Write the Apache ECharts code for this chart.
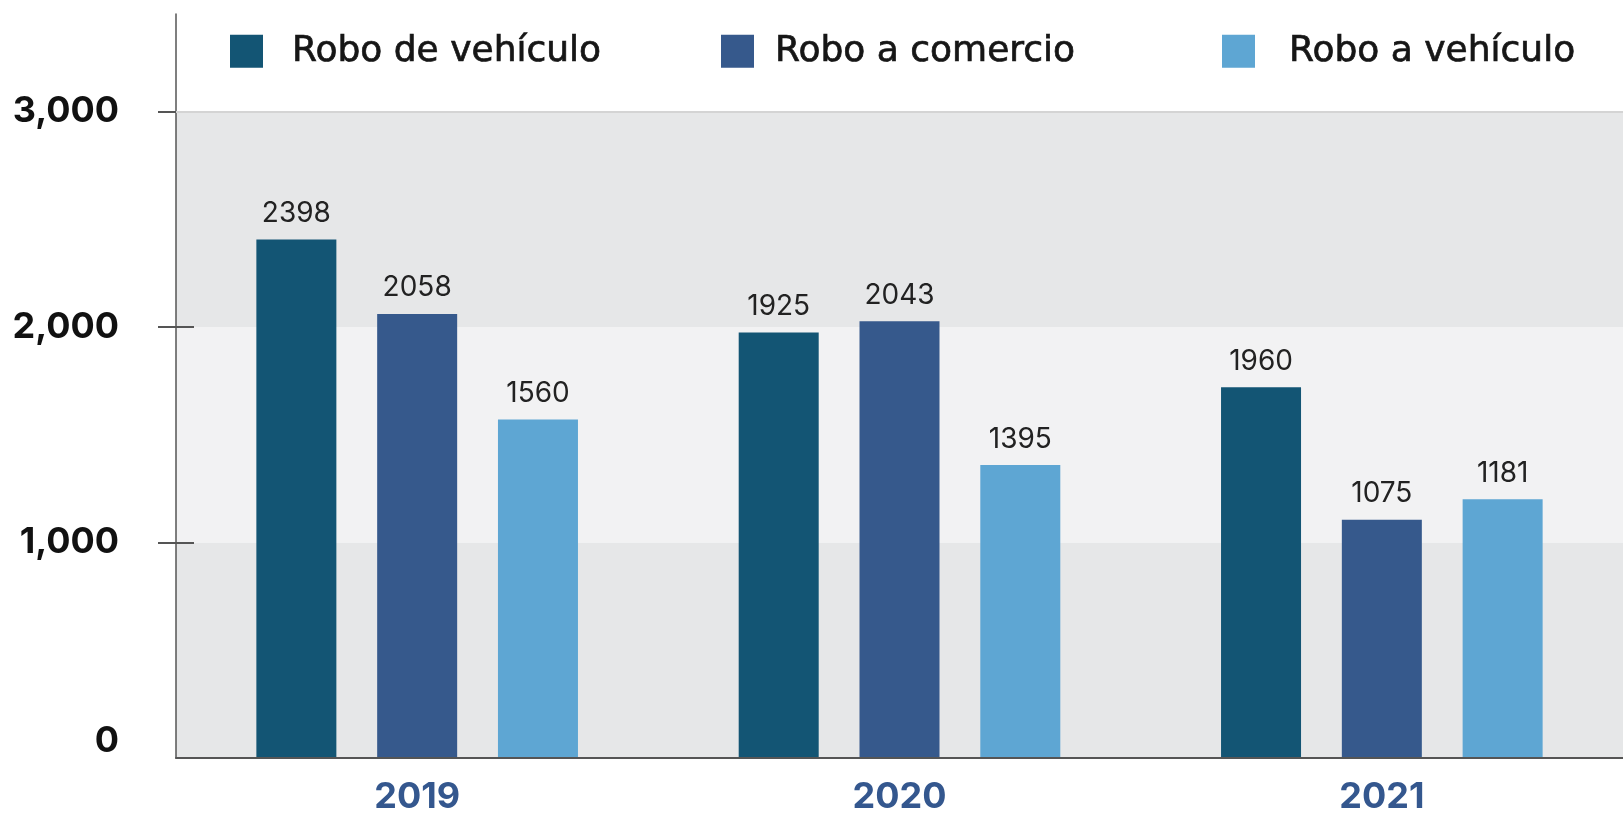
<!DOCTYPE html>
<html>
<head>
<meta charset="utf-8">
<script src="https://cdn.jsdelivr.net/npm/echarts@6/dist/echarts.min.js"></script>
<style>
  html, body { margin: 0; padding: 0; background: #fff; }
  #chart { width: 1623px; height: 815px; }
</style>
</head>
<body>
<div id="chart"></div>
<script>
// años
const years = ['2019', '2020', '2021'];
const seriesNames = ['Robo de vehículo', 'Robo a comercio', 'Robo a vehículo'];

// cifras impresas sobre cada barra
const roboDeVehiculoLabels = [2398, 1925, 1960];
const roboComercioLabels = [2058, 2043, 1075];
const roboAVehiculoLabels = [1560, 1395, 1181];

// altura dibujada de cada barra
const roboDeVehiculo = [2406, 1974, 1720];
const roboComercio = [2060, 2026, 1105];
const roboAVehiculo = [1571, 1359, 1201];

const yTicks = [0, 1000, 2000, 3000];

const colors = ['#135574', '#36598c', '#5ea6d3'];
const font = 'Inter, "Noto Sans", sans-serif';
const legendFont = '"DejaVu Sans", sans-serif';

const chart = echarts.init(document.getElementById('chart'));

function barSeries(idx, values, labels) {
  return {
    name: seriesNames[idx],
    type: 'bar',
    z: 3,
    data: values,
    barWidth: 80,
    barGap: '51%',
    itemStyle: { color: colors[idx] },
    label: {
      show: true,
      position: 'top',
      distance: 12,
      fontFamily: font,
      fontSize: 28,
      color: '#222',
      formatter: (p) => String(labels[p.dataIndex])
    }
  };
}

function legendAt(idx, left, padLeft) {
  return {
    data: [seriesNames[idx]],
    left: left,
    top: 33,
    padding: 0,
    icon: 'rect',
    itemWidth: 33,
    itemHeight: 33,
    selectedMode: false,
    textStyle: {
      fontFamily: legendFont,
      fontSize: 36,
      color: '#161616',
      textBorderColor: '#161616',
      textBorderWidth: 0.7,
      padding: [0, 0, 0, padLeft]
    }
  };
}

chart.setOption({
  animation: false,
  legend: [
    legendAt(0, 230, 24),
    legendAt(1, 721, 16),
    legendAt(2, 1222, 29)
  ],
  grid: { left: 176, top: 14, width: 1455, bottom: 56 },
  xAxis: {
    type: 'category',
    z: 4,
    data: years,
    axisLine: { lineStyle: { color: '#555', width: 2 } },
    axisTick: { show: false },
    axisLabel: {
      margin: 21,
      fontFamily: font,
      fontSize: 36,
      fontWeight: 700,
      color: '#34578e'
    }
  },
  yAxis: [{
    type: 'value',
    z: 4,
    min: 0,
    max: 3452,
    interval: 1000,
    axisLine: { show: true, lineStyle: { color: '#555', width: 1.5 } },
    axisTick: {
      show: true,
      length: 18,
      customValues: [1000, 2000, 3000],
      lineStyle: { color: '#555', width: 2 }
    },
    axisLabel: {
      margin: 57,
      customValues: yTicks,
      fontFamily: font,
      fontSize: 36,
      fontWeight: 700,
      color: '#111',
      formatter: (v) => v === 0 ? '{z|0}' : v.toLocaleString('en-US'),
      rich: { z: { fontFamily: font, fontSize: 36, fontWeight: 700, color: '#111', padding: [0, 0, 34, 0] } }
    },
    splitLine: { show: false }
  }, {
    type: 'value',
    z: 4,
    min: 0,
    max: 3452,
    interval: 1000,
    position: 'left',
    axisLine: { show: false },
    axisLabel: { show: false },
    splitLine: { show: false },
    axisTick: {
      show: true,
      inside: true,
      length: 18,
      customValues: [1000, 2000, 3000],
      lineStyle: { color: '#555', width: 2 }
    }
  }],
  series: [
    {
      // franjas de fondo
      type: 'line',
      z: 1,
      data: [],
      silent: true,
      markArea: {
        silent: true,
        data: [
          [{ yAxis: 0, itemStyle: { color: '#e6e7e8' } }, { yAxis: 1000 }],
          [{ yAxis: 1000, itemStyle: { color: '#f2f2f3' } }, { yAxis: 2000 }],
          [{ yAxis: 2000, itemStyle: { color: '#e6e7e8' } }, { yAxis: 3000 }]
        ]
      },
      markLine: {
        silent: true,
        symbol: 'none',
        label: { show: false },
        lineStyle: { color: '#d4d4d4', width: 2, type: 'solid' },
        data: [{ yAxis: 3000 }]
      }
    },
    barSeries(0, roboDeVehiculo, roboDeVehiculoLabels),
    barSeries(1, roboComercio, roboComercioLabels),
    barSeries(2, roboAVehiculo, roboAVehiculoLabels)
  ]
});
</script>
</body>
</html>
